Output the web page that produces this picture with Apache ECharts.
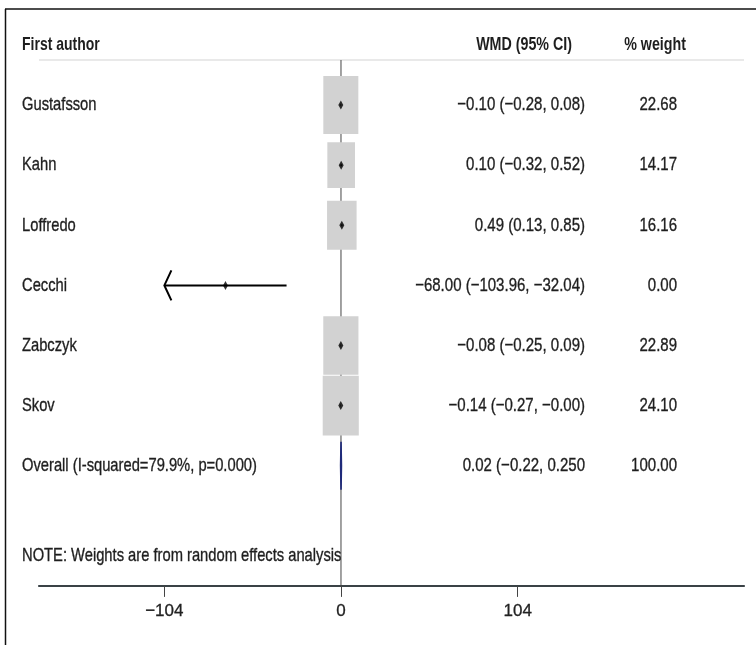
<!DOCTYPE html>
<html>
<head>
<meta charset="utf-8">
<script src="https://cdn.jsdelivr.net/npm/echarts@6/dist/echarts.min.js"></script>
<style>
html,body{margin:0;padding:0;background:#fff;}
#chart{width:756px;height:645px;}
</style>
</head>
<body>
<div id="chart"></div>
<script>
// ---- data ----
const authors = ['Gustafsson', 'Kahn', 'Loffredo', 'Cecchi', 'Zabczyk', 'Skov'];
const wmd = [-0.10, 0.10, 0.49, -68.00, -0.08, -0.14];
const ciLow = [-0.28, -0.32, 0.13, -103.96, -0.25, -0.27];
const ciHigh = [0.08, 0.52, 0.85, -32.04, 0.09, -0.00];
const weights = [22.68, 14.17, 16.16, 0.00, 22.89, 24.10];
const wmdLabels = ['\u22120.10 (\u22120.28, 0.08)', '0.10 (\u22120.32, 0.52)', '0.49 (0.13, 0.85)',
  '\u221268.00 (\u2212103.96, \u221232.04)', '\u22120.08 (\u22120.25, 0.09)', '\u22120.14 (\u22120.27, \u22120.00)'];
const weightLabels = ['22.68', '14.17', '16.16', '0.00', '22.89', '24.10'];
const arrowLeft = [false, false, false, true, false, false];
const overallLabel = 'Overall (I-squared=79.9%, p=0.000)';
const overallValues = [0.02, -0.22, 0.25]; // estimate, low, high
const overallWmdLabel = '0.02 (\u22120.22, 0.250';
const overallWeightLabel = '100.00';
const headers = ['First author', 'WMD (95% CI)', '% weight'];
const noteText = 'NOTE: Weights are from random effects analysis';
const tickValues = [-104, 0, 104];

// ---- layout constants ----
const FONT = '"Liberation Sans", Arial, sans-serif';
const FS = 19;
const SCALE_NUM = 0.79, SCALE_NAME = 0.775;
const X_MIN = -177.75, X_MAX = 237.2;
const Y_MAX = 9;
const HEADER_LINE_ROW = 0.25;
const NOTE_ROW = 8.5;
const COL_NAME = 22, COL_WMD = 585, COL_W = 677, COL_WMD_H = 572, COL_W_H = 686;
const BOX_KW = 7.35, BOX_KH = 12.18;

const chart = echarts.init(document.getElementById('chart'), null, {renderer: 'canvas'});

const studyRows = authors.map((a, i) => i + 1);
const overallRow = authors.length + 1;

// text table rows
const tableRows = [];
tableRows.push({row: 0, cols: headers, bold: true});
authors.forEach((a, i) => tableRows.push({row: i + 1, cols: [a, wmdLabels[i], weightLabels[i]], bold: false}));
tableRows.push({row: overallRow, cols: [overallLabel, overallWmdLabel, overallWeightLabel], bold: false});
tableRows.push({row: NOTE_ROW, cols: [noteText, '', ''], bold: false});

const option = {
  animation: false,
  backgroundColor: '#fff',
  grid: {left: 39, right: 12, top: 45, bottom: 59.1},
  xAxis: {
    type: 'value', min: X_MIN, max: X_MAX,
    splitLine: {show: false},
    axisLine: {show: true, onZero: false, lineStyle: {color: '#3a4246', width: 2.2}},
    axisTick: {show: true, customValues: tickValues, length: 11, lineStyle: {color: '#444', width: 1}},
    axisLabel: {show: true, customValues: tickValues, margin: 17, color: '#222',
      fontFamily: FONT, fontSize: 17, textBorderColor: '#222', textBorderWidth: 0.3,
      formatter: v => String(v).replace('-', '\u2212')}
  },
  yAxis: {type: 'value', inverse: true, min: 0, max: Y_MAX, show: false},
  graphic: [
    {type: 'line', shape: {x1: 5.5, y1: 9, x2: 5.5, y2: 645}, style: {stroke: '#111', lineWidth: 1.5}, z: 10},
    {type: 'line', shape: {x1: 5, y1: 9, x2: 756, y2: 9}, style: {stroke: '#111', lineWidth: 1.5}, z: 10}
  ],
  series: [
    // header separator line
    {type: 'line', data: [[X_MIN, HEADER_LINE_ROW], [X_MAX, HEADER_LINE_ROW]], symbol: 'none',
      lineStyle: {color: '#e2e2e2', width: 1.5}, silent: true, z: 1},
    // zero reference line
    {type: 'line', data: [[0, HEADER_LINE_ROW], [0, Y_MAX]], symbol: 'none',
      lineStyle: {color: '#454545', width: 1}, silent: true, z: 2},
    // weight boxes
    {type: 'custom', z: 3, silent: true,
      data: authors.map((a, i) => [wmd[i], studyRows[i], weights[i]]),
      renderItem: (params, api) => {
        const w = api.value(2);
        if (!(w > 0)) return null;
        const c = api.coord([api.value(0), api.value(1)]);
        const bw = BOX_KW * Math.sqrt(w), bh = BOX_KH * Math.sqrt(w);
        return {type: 'rect', shape: {x: c[0] - bw / 2, y: c[1] - bh / 2, width: bw, height: bh},
          style: {fill: '#d2d2d2'}};
      }},
    // CI lines and arrows
    {type: 'custom', z: 4, silent: true,
      data: authors.map((a, i) => [ciLow[i], ciHigh[i], studyRows[i], arrowLeft[i] ? 1 : 0]),
      renderItem: (params, api) => {
        const p1 = api.coord([api.value(0), api.value(2)]);
        const p2 = api.coord([api.value(1), api.value(2)]);
        const children = [{type: 'line', shape: {x1: p1[0], y1: p1[1], x2: p2[0], y2: p2[1]},
          style: {stroke: '#000', lineWidth: 2}}];
        if (api.value(3) === 1) {
          children.push({type: 'polyline', shape: {points: [[p1[0] + 7, p1[1] - 15], [p1[0], p1[1]], [p1[0] + 7, p1[1] + 15]]},
            style: {stroke: '#000', lineWidth: 2, fill: null}});
        }
        return {type: 'group', children};
      }},
    // point estimates
    {type: 'scatter', z: 5, silent: true, symbol: 'diamond', symbolSize: [5, 9],
      itemStyle: {color: '#000'},
      data: authors.map((a, i) => [wmd[i], studyRows[i]])},
    // overall diamond
    {type: 'custom', z: 6, silent: true,
      data: [[overallValues[0], overallValues[1], overallValues[2], overallRow]],
      renderItem: (params, api) => {
        const r = api.value(3);
        const top = api.coord([api.value(0), r - 0.4]);
        const bot = api.coord([api.value(0), r + 0.4]);
        const l = api.coord([api.value(1), r]);
        const h = api.coord([api.value(2), r]);
        return {type: 'polygon', shape: {points: [l, top, h, bot]},
          style: {fill: '#1f2a7a', stroke: '#1f2a7a', lineWidth: 1.6}};
      }},
    // text table
    {type: 'custom', z: 7, silent: true,
      data: tableRows.map(t => [0, t.row]),
      renderItem: (params, api) => {
        const t = tableRows[params.dataIndex];
        const y = api.coord([0, api.value(1)])[1];
        const font = (t.bold ? 'bold ' : '') + FS + 'px ' + FONT;
        const xs = t.bold ? [COL_NAME, COL_WMD_H, COL_W_H] : [COL_NAME, COL_WMD, COL_W];
        const aligns = ['left', 'right', 'right'];
        return {type: 'group', children: t.cols.map((txt, k) => ({
          type: 'text', x: xs[k], y: y,
          scaleX: (k === 0 ? SCALE_NAME : SCALE_NUM) * (t.bold ? 0.95 : 1), scaleY: 1,
          style: {text: txt, x: 0, y: 0, font: font, fill: '#1e1e1e',
            stroke: t.bold ? null : '#1e1e1e', lineWidth: 0.35,
            align: aligns[k], verticalAlign: 'middle'}
        }))};
      }}
  ]
};
chart.setOption(option);
</script>
</body>
</html>
